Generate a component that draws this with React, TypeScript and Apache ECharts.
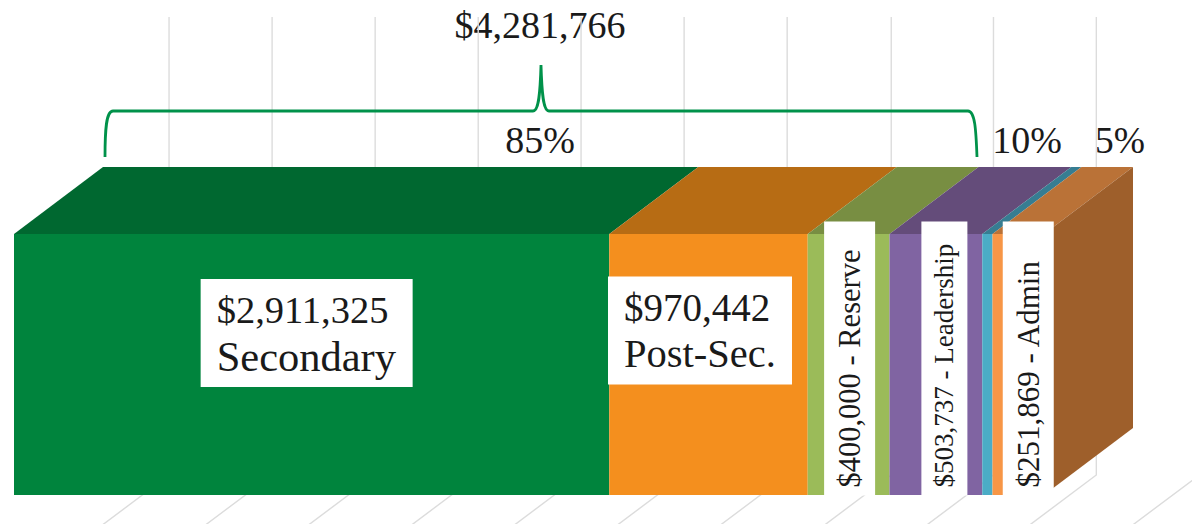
import React, { useEffect, useRef } from "react";
import * as echarts from "echarts";

const categories = ["Budget"];
const segmentNames = ["Secondary", "Post-Sec.", "Reserve", "Leadership", "Leadership B", "Admin"];
const segmentValues = [2911325, 970442, 400000, 453737, 50000, 251869];
const amountLabels = ["$2,911,325", "$970,442", "$400,000", "$503,737", "", "$251,869"];
const gridTicks = [323000, 827000, 1331000, 1835000, 2338000, 2842000, 3346000, 3855000, 4355000, 4858000, 5362000];
const totalLabel = "$4,281,766";
const shareLabels = ["85%", "10%", "5%"];

const frontColors = ["#00843D", "#F48F1E", "#9BBB59", "#8064A2", "#4BACC6", "#F79646"];
const topColors = ["#006830", "#B76C14", "#788E42", "#644C7A", "#367D92", "#BA7237"];
const sideColor = "#9E5F2B";
const FONT = "'Liberation Serif', serif";
const TEXT = "#1a1a1a";
const DX = 89;
const DY = 67;

const total = segmentValues.reduce((a, b) => a + b, 0);
let running = 0;
const segmentRanges = segmentValues.map((v) => {
  const r = [running, running + v];
  running += v;
  return r;
});

const BRACE =
  "M105 157 C105 130 106 111 113 111 L533 111 C538 111 540 100 541 65 C542 100 544 111 549 111 L968 111 C975 111 976 130 977 157";
echarts.graphic.registerShape("brace", echarts.graphic.extendPath(BRACE, {}));

function twoLineLabel(i: number, offset: number[], w: number, sizeA: number, sizeB: number) {
  return {
    show: true,
    position: "inside",
    offset,
    backgroundColor: "#fff",
    padding: [8, 16, 8, 16],
    color: TEXT,
    fontFamily: FONT,
    formatter: `{a|${amountLabels[i]}}\n{b|${segmentNames[i]}}`,
    rich: {
      a: { fontFamily: FONT, fontSize: sizeA, lineHeight: 46, width: w, color: TEXT, align: "left" },
      b: { fontFamily: FONT, fontSize: sizeB, lineHeight: 46, width: w, color: TEXT, align: "left" },
    },
  };
}

function rotatedLabel(i: number, name: string, offset: number[], size: number, w: number, h: number) {
  return {
    show: true,
    position: "inside",
    rotate: 90,
    offset,
    color: TEXT,
    fontFamily: FONT,
    backgroundColor: "#fff",
    padding: [0, 0, 0, 8],
    formatter: `{a|${amountLabels[i]} - ${name}}`,
    rich: {
      a: { fontFamily: FONT, fontSize: size, lineHeight: h, width: w - 8, color: TEXT, align: "left" },
    },
  };
}

const segmentLabels: any[] = [
  twoLineLabel(0, [-5, -31.5], 180, 38.5, 42.5),
  twoLineLabel(1, [-8.5, -34], 152, 39, 40.5),
  rotatedLabel(2, "Reserve", [6, 1], 30.5, 274, 51),
  rotatedLabel(3, "Leadership", [6, 8.5], 27, 274, 46),
  { show: false },
  rotatedLabel(5, "Admin", [6, 10], 31, 274, 51),
];

export default function App() {
  const ref = useRef<HTMLDivElement>(null);
  useEffect(() => {
    document.body.style.margin = "0";
    const chart = echarts.init(ref.current!, undefined, { renderer: "svg" });
    const textStyle = (text: string, x: number, y: number, size: number) => ({
      type: "text",
      x,
      y,
      silent: true,
      style: { text, fontFamily: FONT, fontSize: size, fill: TEXT, align: "center", verticalAlign: "middle" },
    });
    chart.setOption({
      animation: false,
      backgroundColor: "#fff",
      grid: { left: 14, right: 148, top: 234, bottom: 29 },
      xAxis: { type: "value", min: 0, max: total, show: false },
      yAxis: { type: "category", data: categories, show: false },
      series: [
        {
          type: "custom",
          name: "gridlines",
          z: 1,
          silent: true,
          encode: { x: 0 },
          data: gridTicks.map((v) => [v]),
          renderItem: (params: any, api: any) => {
            const p = api.coord([api.value(0), 0]);
            const x = p[0] + DX;
            const top = params.coordSys.y;
            const floorY = top + 241;
            return {
              type: "polyline",
              shape: {
                points: [
                  [x, top - 217],
                  [x, floorY],
                  [x - 72, floorY + 54],
                ],
              },
              style: { stroke: "#dcdcdc", fill: "none", lineWidth: 1.4 },
            };
          },
        },
        {
          type: "custom",
          name: "top faces",
          z: 2,
          silent: true,
          encode: { x: [0, 1] },
          data: segmentRanges,
          renderItem: (params: any, api: any) => {
            const x0 = api.coord([api.value(0), 0])[0];
            const x1 = api.coord([api.value(1), 0])[0];
            const y = params.coordSys.y;
            return {
              type: "polygon",
              shape: {
                points: [
                  [x0, y],
                  [x1, y],
                  [x1 + DX, y - DY],
                  [x0 + DX, y - DY],
                ],
              },
              style: { fill: topColors[params.dataIndex] },
            };
          },
        },
        {
          type: "custom",
          name: "side face",
          z: 2,
          silent: true,
          encode: { x: 0 },
          data: [[total]],
          renderItem: (params: any, api: any) => {
            const x = api.coord([api.value(0), 0])[0];
            const y0 = params.coordSys.y;
            const y1 = y0 + params.coordSys.height;
            return {
              type: "polygon",
              shape: {
                points: [
                  [x, y0],
                  [x + DX, y0 - DY],
                  [x + DX, y1 - DY],
                  [x, y1],
                ],
              },
              style: { fill: sideColor },
            };
          },
        },
        ...segmentValues.map((v, i) => ({
          type: "bar",
          name: segmentNames[i],
          stack: "total",
          z: 3,
          barWidth: "100%",
          silent: true,
          data: [v],
          itemStyle: { color: frontColors[i] },
          label: segmentLabels[i],
        })),
      ],
      graphic: [
        {
          type: "brace",
          x: 0,
          y: 0,
          z: 10,
          silent: true,
          style: { stroke: "#00924A", fill: "none", lineWidth: 2.8 },
        },
        textStyle(totalLabel, 540, 25, 38),
        textStyle(shareLabels[0], 540, 140, 38),
        textStyle(shareLabels[1], 1027, 140, 38),
        textStyle(shareLabels[2], 1120, 140, 37.5),
      ],
    });
    return () => chart.dispose();
  }, []);
  return <div ref={ref} style={{ width: 1192, height: 524 }} />;
}
